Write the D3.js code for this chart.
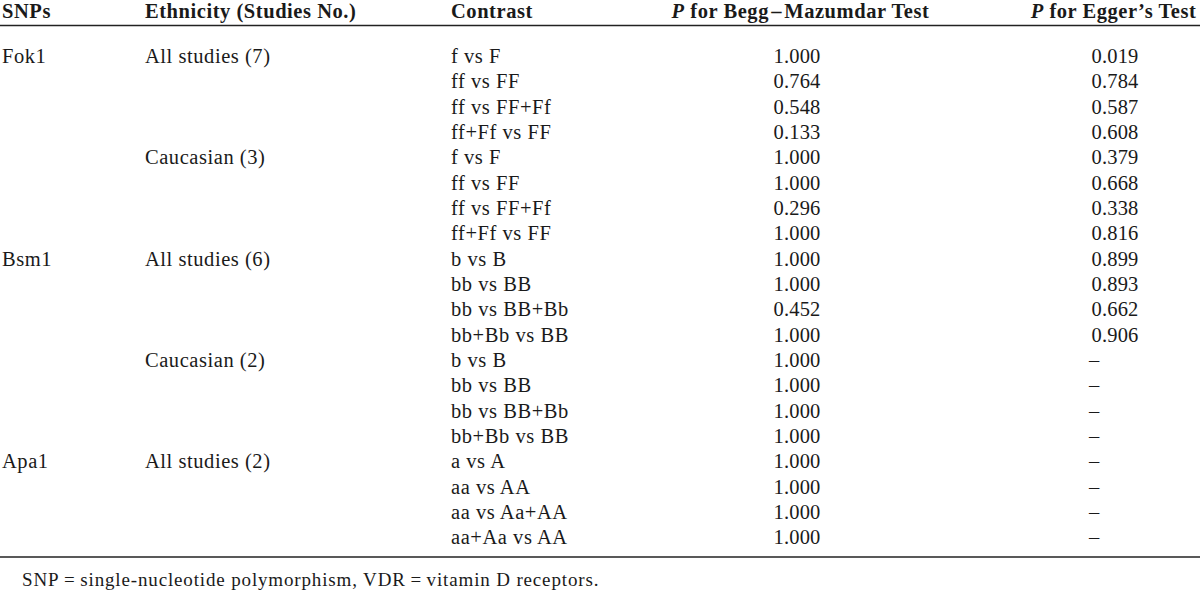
<!DOCTYPE html>
<html><head><meta charset="utf-8">
<script src="https://cdn.jsdelivr.net/npm/d3@7"></script>
<style>
html,body{margin:0;padding:0;background:#fff;}
svg{display:block;}
text{font-family:"Liberation Serif","Times New Roman",serif;fill:#1a1a1a;}
</style></head>
<body>
<svg id="c" width="1200" height="591"></svg>
<script>
const headers = ["SNPs","Ethnicity (Studies No.)","Contrast","for Begg\u200A\u2013\u200AMazumdar Test","for Egger\u2019s Test"];
const snps = ["Fok1","","","","","","","","Bsm1","","","","","","","","Apa1","","",""];
const ethnicity = ["All studies (7)","","","","Caucasian (3)","","","","All studies (6)","","","","Caucasian (2)","","","","All studies (2)","","",""];
const contrasts = ["f vs F","ff vs FF","ff vs FF+Ff","ff+Ff vs FF","f vs F","ff vs FF","ff vs FF+Ff","ff+Ff vs FF",
  "b vs B","bb vs BB","bb vs BB+Bb","bb+Bb vs BB","b vs B","bb vs BB","bb vs BB+Bb","bb+Bb vs BB",
  "a vs A","aa vs AA","aa vs Aa+AA","aa+Aa vs AA"];
const begg = ["1.000","0.764","0.548","0.133","1.000","1.000","0.296","1.000","1.000","1.000","0.452","1.000","1.000","1.000","1.000","1.000","1.000","1.000","1.000","1.000"];
const egger = ["0.019","0.784","0.587","0.608","0.379","0.668","0.338","0.816","0.899","0.893","0.662","0.906","\u2013","\u2013","\u2013","\u2013","\u2013","\u2013","\u2013","\u2013"];
const footnote = "SNP\u2009=\u2009single-nucleotide polymorphism, VDR\u2009=\u2009vitamin D receptors.";

const svg = d3.select("#c");
const fs = 20.5;
const ls = 0.55;
const y = d3.scaleLinear().domain([0, contrasts.length - 1]).range([56, 537]);
const colX = [2, 145, 451, 797, 1115];

// header
const hy = 11;
const hdr = svg.append("g").attr("font-weight", "bold").attr("font-size", fs).attr("letter-spacing", ls);
[0, 1, 2].forEach(i => {
  hdr.append("text").attr("x", colX[i]).attr("y", hy).attr("dy", "0.35em").text(headers[i]);
});
[[3, 800.5], [4, 1113.5]].forEach(([i, cx]) => {
  const t = hdr.append("text").attr("x", cx).attr("y", hy).attr("dy", "0.35em").attr("text-anchor", "middle");
  t.append("tspan").attr("font-style", "italic").text("P");
  t.append("tspan").text(" " + headers[i]);
});

// rules
svg.append("line").attr("x1", 0).attr("x2", 1200).attr("y1", 25.5).attr("y2", 25.5).attr("stroke", "#222").attr("stroke-width", 1.6);
svg.append("line").attr("x1", 0).attr("x2", 1200).attr("y1", 557).attr("y2", 557).attr("stroke", "#222").attr("stroke-width", 1.6);

const rows = d3.range(contrasts.length);
const g = svg.append("g").attr("font-size", fs).attr("letter-spacing", ls);
g.selectAll("text.snp").data(rows).join("text").attr("class", "snp")
  .attr("x", colX[0]).attr("y", i => y(i)).attr("dy", "0.35em").text(i => snps[i]);
g.selectAll("text.eth").data(rows).join("text").attr("class", "eth")
  .attr("x", colX[1]).attr("y", i => y(i)).attr("dy", "0.35em").text(i => ethnicity[i]);
g.selectAll("text.con").data(rows).join("text").attr("class", "con")
  .attr("x", colX[2]).attr("y", i => y(i)).attr("dy", "0.35em").text(i => contrasts[i]);
g.selectAll("text.beg").data(rows).join("text").attr("class", "beg")
  .attr("x", colX[3]).attr("y", i => y(i)).attr("dy", "0.35em").attr("text-anchor", "middle").attr("letter-spacing", 0.2).text(i => begg[i]);
g.selectAll("text.egg").data(rows).join("text").attr("class", "egg")
  .attr("x", i => egger[i] === "\u2013" ? 1089 : colX[4])
  .attr("y", i => y(i)).attr("dy", "0.35em")
  .attr("letter-spacing", 0.2)
  .attr("text-anchor", i => egger[i] === "\u2013" ? "start" : "middle")
  .attr("fill", i => egger[i] === "\u2013" ? "#555" : null)
  .text(i => egger[i]);

svg.append("text").attr("x", 22).attr("y", 579).attr("dy", "0.35em").attr("font-size", 19).attr("letter-spacing", 0.85).text(footnote);
</script>
</body></html>
